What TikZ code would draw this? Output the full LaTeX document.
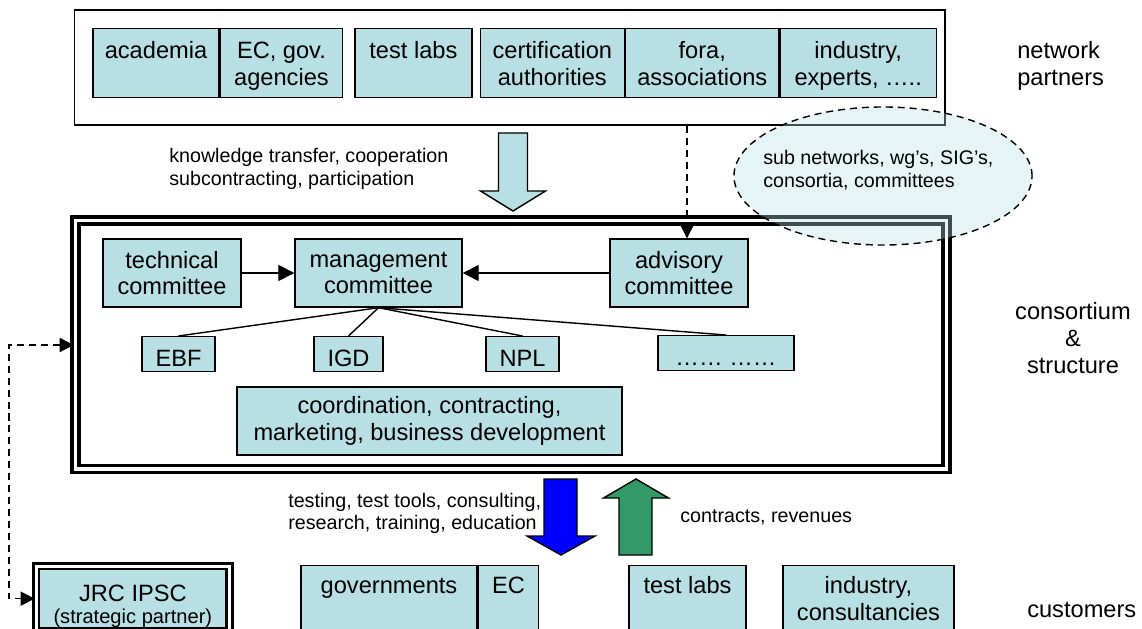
\documentclass[tikz,border=0pt]{standalone}
\usepackage{fontspec}
\setmainfont{Liberation Sans}
\usetikzlibrary{arrows.meta, positioning, shapes.geometric}
\definecolor{boxblue}{RGB}{184,224,228}
\definecolor{arrgreen}{RGB}{51,153,102}
\newcommand\boxfont{\fontsize{16.8}{19}\selectfont}
\newcommand\notefont{\fontsize{14}{16.2}\selectfont}

\begin{document}
\begin{tikzpicture}[x=0.025cm, y=-0.025cm,
    box/.style={draw, line width=1pt, fill=boxblue, align=center, inner sep=0pt, font=\boxfont},
    midbox/.style={box, minimum height=1.7cm},
    topbox/.style={box, anchor=north, text height=0.75cm, text depth=0.975cm},
    topbox2/.style={box, anchor=north, text height=1.418cm, text depth=0.307cm},
    membox/.style={box, anchor=north, text height=0.75cm, text depth=0.125cm},
    custbox/.style={box, anchor=north, text height=0.7cm, text depth=1.6cm},
    custbox2/.style={box, anchor=north, text height=1.368cm, text depth=0.932cm},
    lbl/.style={align=center, inner sep=0pt, font=\boxfont},
    note/.style={align=left, anchor=west, inner sep=0pt, font=\notefont},
    blk/.style={draw, line width=1pt},
    arr/.style={-{Triangle[length=0.4cm, width=0.4cm]}, line width=1pt},
    dasharr/.style={line width=1pt, dash pattern=on 5pt off 3.5pt},
    ln/.style={line width=1pt}
]
\useasboundingbox (0,0) rectangle (1142,629);
\clip (0,0) rectangle (1142,629);

% network partners
\node[draw, line width=1.3pt, minimum width=21.76cm, minimum height=2.875cm] (partners) at (509.75,67.5) {};
\node[topbox, minimum width=3.15cm] (acad) at (156,28) {academia};
\node[topbox2, right=0pt of acad, minimum width=3.05cm] (ec) {EC, gov.\\agencies};
\node[topbox, right=0.275cm of ec, minimum width=2.925cm] (labs) {test labs};
\node[topbox2, right=0.175cm of labs, minimum width=3.6cm] (cert) {certification\\authorities};
\node[topbox2, right=0pt of cert, minimum width=3.825cm] (fora) {fora,\\associations};
\node[topbox2, right=0pt of fora, minimum width=3.9cm] (ind) {industry,\\experts, …..};

\node[note] (know) at (169,169) {knowledge transfer, cooperation\\subcontracting, participation};
\draw[blk, fill=boxblue] (498.5,133) -- (527.5,133) -- (527.5,191) -- (545.5,191) -- (513,211)
    -- (480.5,191) -- (498.5,191) -- cycle;

% consortium
\node[draw, double, line width=2.4pt, double distance=2.5pt, minimum width=21.77cm, minimum height=6.22cm] (cons) at (510.9,344.8) {};
\node[midbox, minimum width=3.45cm] (tech) at (172,273) {technical\\committee};
\node[midbox, minimum width=4.175cm] (mgmt) at (378.5,273) {management\\committee};
\node[midbox, minimum width=3.45cm] (adv) at (679,273) {advisory\\committee};
\node[membox, minimum width=1.825cm] (ebf) at (178.5,336) {EBF};
\node[membox, minimum width=1.725cm] (igd) at (348.5,336) {IGD};
\node[membox, minimum width=1.825cm] (npl) at (522.5,336) {NPL};
\node[membox, minimum width=3.4cm] (more) at (726,335) {…… ……};
\node[midbox, minimum width=9.625cm] (coord) at (429.5,421) {coordination, contracting,\\marketing, business development};

\draw[arr] (tech) -- (mgmt);
\draw[arr] (adv) -- (mgmt);
\draw[ln] (mgmt.south) -- (ebf.north);
\draw[ln] (mgmt.south) -- (igd.north);
\draw[ln] (mgmt.south) -- (npl.north);
\draw[ln] (mgmt.south) -- (more.north);
\draw[dasharr, -{Triangle[length=0.35cm, width=0.35cm]}] ([xshift=0.2cm]adv.north |- partners.south) -- ([xshift=0.2cm]adv.north);

% sub networks cloud, laid over both frames
\node[draw, ellipse, dash pattern=on 5pt off 3.5pt, line width=1pt, fill=boxblue, fill opacity=0.35,
    minimum width=7.45cm, minimum height=3.45cm] (subnet) at (883,176) {};
\node[note] (subtxt) at (763,170) {sub networks, wg’s, SIG’s,\\consortia, committees};

% customers
\draw[blk, fill=blue] (544,479) -- (577,479) -- (577,536) -- (595,536) -- (561,555) -- (527,536) -- (544,536) -- cycle;
\draw[blk, fill=arrgreen] (619,555) -- (652,555) -- (652,498) -- (668.5,498) -- (636,479) -- (603.5,498) -- (619,498) -- cycle;
\node[note] (serv) at (288,513.5) {testing, test tools, consulting,\\research, training, education};
\node[note] (rev) at (680,517) {contracts, revenues};

\node[box, anchor=north, double, line width=2.1pt, double distance=1.85pt, minimum width=4.83cm,
    text height=1.428cm, text depth=0.194cm] (jrc) at (132.85,564.75) {JRC IPSC\\[-3.8pt]{\fontsize{14.3}{15}\selectfont (strategic partner)}};
\node[custbox, minimum width=4.4cm] (gov) at (389,565) {governments};
\node[custbox, right=0pt of gov, minimum width=1.5cm] (ecc) {EC};
\node[custbox, minimum width=2.925cm] (clabs) at (687.5,565) {test labs};
\node[custbox2, minimum width=4.275cm] (cind) at (868.5,565) {industry,\\consultancies};

\coordinate (dl) at (9,345);
\draw[dasharr, {Triangle[length=0.35cm, width=0.35cm]}-{Triangle[length=0.35cm, width=0.35cm]}] (cons.west |- dl) -- (dl) |- (jrc.west);

% row labels
\node[lbl, align=left, anchor=west] (netlbl) at (1017,66) {network\\partners};
\node[lbl] (conslbl) at (1073,338) {consortium\\\&\\structure};
\node[lbl, anchor=west] (custlbl) at (1027,610) {customers};
\end{tikzpicture}
\end{document}
